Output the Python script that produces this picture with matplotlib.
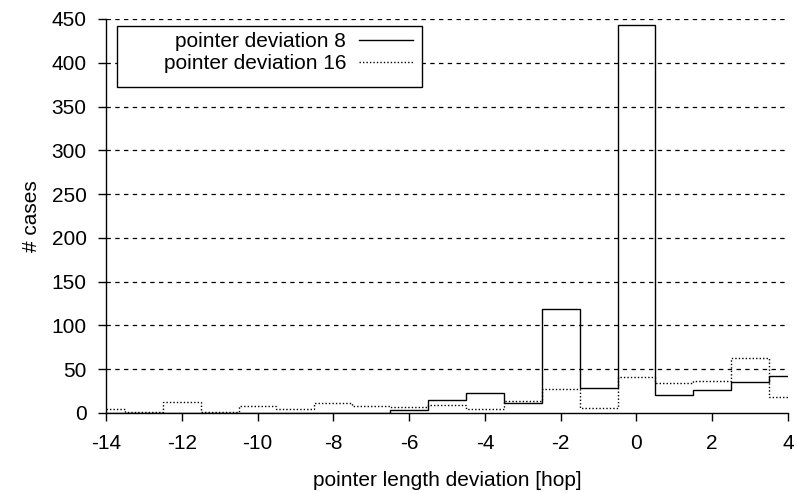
import matplotlib
matplotlib.use("Agg")
import matplotlib.pyplot as plt
from matplotlib.patches import Rectangle
import numpy as np

plt.rcParams["font.family"] = ["Liberation Sans", "DejaVu Sans"]

# histogram bins (centre values, width 1 hop)
deviation = list(range(-14, 5))
dev8 = [0, 0, 0, 0, 0, 0, 0, 0, 3, 15, 23, 11, 119, 29, 443, 21, 26, 35, 42]
dev16 = [5, 1, 12, 1, 8, 5, 11, 8, 7, 9, 4, 14, 27, 6, 41, 34, 37, 63, 18]

x_ticks = list(range(-14, 5, 2))
y_ticks = list(range(0, 451, 50))

centres = np.array(deviation, dtype=float)
edges = np.concatenate([[centres[0]], centres[:-1] + 0.5, [centres[-1]]])

fig = plt.figure(figsize=(7.98, 4.93), dpi=100)
ax = fig.add_axes([0.1328, 0.1623, 0.8547, 0.7992])

for yv in y_ticks[1:]:
    ax.axhline(yv, color="black", lw=0.9, ls=(0, (3.5, 3.5)), zorder=0)

ax.stairs(dev8, edges, baseline=None, color="black", lw=1.0, label="pointer deviation 8")
ax.stairs(dev16, edges, baseline=None, color="black", lw=1.0, ls=(0, (1, 1.5)),
          label="pointer deviation 16")

ax.set_xlim(-14, 4)
ax.set_ylim(0, 450)
ax.set_xticks(x_ticks)
ax.set_yticks(y_ticks)
ax.set_xticklabels([str(v) for v in x_ticks])
ax.tick_params(direction="out", length=6, width=1, labelsize=15)
ax.tick_params(axis="y", pad=8)
ax.tick_params(axis="x", pad=9)
for side in ("top", "right"):
    ax.spines[side].set_visible(False)
for side in ("left", "bottom"):
    ax.spines[side].set_linewidth(1.0)

ax.set_xlabel("pointer length deviation [hop]", fontsize=15, va="center")
ax.xaxis.set_label_coords(0.5, -0.172)
ax.set_ylabel("# cases", fontsize=15)
ax.yaxis.set_label_coords(-0.095, 0.5)

# gnuplot-style key: wide box, right-aligned labels, sample on the right
ax.add_patch(Rectangle((0.016, 0.827), 0.447, 0.155, transform=ax.transAxes,
                       facecolor="white", edgecolor="black", lw=1.0, zorder=4))
leg = ax.legend(loc="upper right", bbox_to_anchor=(0.450, 0.966), fontsize=15,
                markerfirst=False, frameon=False, handlelength=2.6,
                handletextpad=0.6, borderpad=0, labelspacing=0.12,
                borderaxespad=0)
leg.set_zorder(5)

fig.savefig("out.png", dpi=100)
